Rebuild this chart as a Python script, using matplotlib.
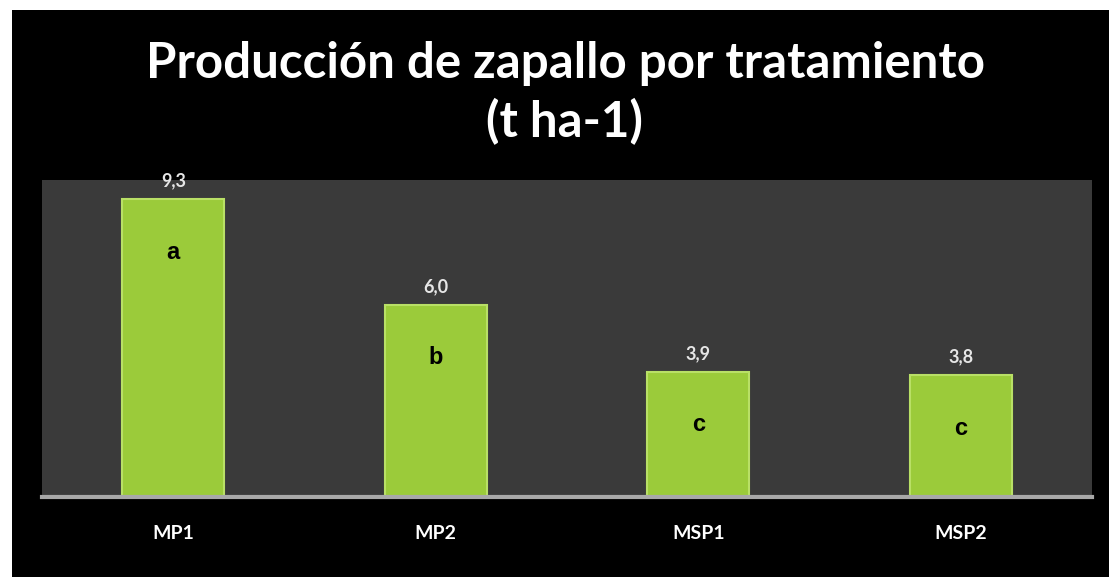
"""Producción de zapallo por tratamiento (t ha-1)."""

import matplotlib.pyplot as plt
from matplotlib.patches import Rectangle

tratamientos = ['MP1', 'MP2', 'MSP1', 'MSP2']
produccion = [9.3, 6.0, 3.9, 3.8]
grupos = ['a', 'b', 'c', 'c']


def main():

    fig = plt.figure(figsize=(11.09, 5.77), dpi=100, facecolor='white')

    # Black slide background, leaving a thin white margin top and left.
    fig.patches.append(Rectangle((12 / 1109, 0), 1 - 12 / 1109, 1 - 10 / 577,
                                 transform=fig.transFigure,
                                 facecolor='black', edgecolor='none', zorder=-1))

    ax = fig.add_axes([42 / 1109, 80 / 577, 1050 / 1109, 317 / 577])
    ax.set_facecolor('#3a3a3a')

    x = range(len(tratamientos))
    ax.bar(x, produccion, width=0.39, color='#9bcb3a',
           edgecolor='#b9e066', linewidth=1.5, zorder=2)

    for xi, val, grp in zip(x, produccion, grupos):
        ax.text(xi, val + 0.3, f'{val:.1f}'.replace('.', ','),
                ha='center', va='bottom', color='#e6e6e6', fontsize=13,
                fontweight='bold', family='Lato', clip_on=False, zorder=3)
        ax.text(xi, val - 1.65, grp, ha='center', va='center',
                color='black', fontsize=17, fontweight='bold',
                family='Liberation Sans', zorder=3)

    ax.set_xlim(-0.5, 3.5)
    ax.set_ylim(0, 9.9)
    ax.set_yticks([])
    ax.set_xticks(list(x))
    ax.set_xticklabels(tratamientos, color='white', fontsize=14,
                       fontweight='bold', family='Lato')
    ax.tick_params(axis='x', length=0, pad=20)
    for side in ['top', 'right', 'left']:
        ax.spines[side].set_visible(False)
    ax.spines['bottom'].set_color('#a8a8a8')
    ax.spines['bottom'].set_linewidth(3)

    fig.text(565 / 1109, 1 - 64 / 577, 'Producción de zapallo por tratamiento',
             ha='center', va='center', color='white', fontsize=35.5,
             fontweight='bold', family='Lato')
    fig.text(565 / 1109, 1 - 122 / 577, '(t ha-1)',
             ha='center', va='center', color='white', fontsize=35.5,
             fontweight='bold', family='Lato')

    fig.savefig('out.png', dpi=100, facecolor=fig.get_facecolor())


if __name__ == '__main__':
    main()
